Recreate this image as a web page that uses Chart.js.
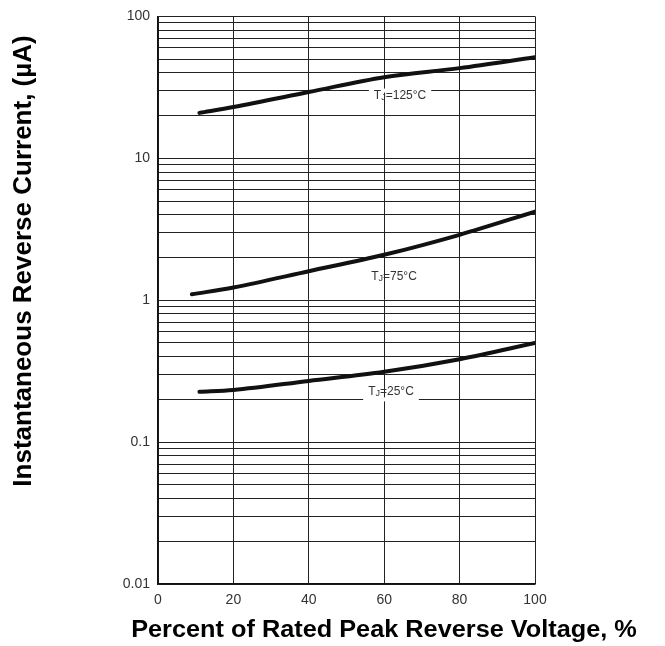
<!DOCTYPE html>
<html>
<head>
<meta charset="utf-8">
<script src="https://cdn.jsdelivr.net/npm/chart.js@4.4.1/dist/chart.umd.min.js"></script>
<style>
  html, body { margin: 0; padding: 0; background: #fff; }
  canvas { display: block; }
</style>
</head>
<body>
<canvas id="chart" width="665" height="646"></canvas>
<script>
// values
const xTickLabels = [0, 20, 40, 60, 80, 100];
const yTickLabels = [0.01, 0.1, 1, 10, 100];

const x125 = [11, 20, 40, 60, 80, 100];
const y125 = [20.9, 23.0, 29.3, 37.3, 43.2, 51.5];

const x75 = [9, 20, 40, 60, 80, 100];
const y75 = [1.1, 1.23, 1.6, 2.09, 2.89, 4.21];

const x25 = [11, 20, 40, 60, 80, 100];
const y25 = [0.226, 0.233, 0.27, 0.313, 0.384, 0.5];

// log grid lines: 1..9 in every decade
const yGrid = [];
for (let i = 0; i < yTickLabels.length - 1; i++) {
  for (let m = 1; m <= 9; m++) yGrid.push(Number((m * yTickLabels[i]).toPrecision(3)));
}
yGrid.push(yTickLabels[yTickLabels.length - 1]);

const toPoints = (xs, ys) => xs.map((x, i) => ({ x: x, y: ys[i] }));

const lineStyle = {
  borderColor: '#111',
  borderWidth: 4,
  pointRadius: 0,
  fill: false,
  cubicInterpolationMode: 'monotone',
  borderCapStyle: 'round'
};

// curve labels + the little white gap they cut into a grid line
const curveLabels = [
  { x: 64.2, y: 27.5, sub: 'J', rest: '=125°C', gap: 30 },
  { x: 62.6, y: 1.47, sub: 'J', rest: '=75°C', gap: null },
  { x: 61.8, y: 0.226, sub: 'J', rest: '=25°C', gap: 0.2 }
];

const decor = {
  id: 'decor',
  afterDatasetsDraw(chart) {
    const ctx = chart.ctx;
    const xs = chart.scales.x, ys = chart.scales.y;
    ctx.save();
    curveLabels.forEach(l => {
      const big = '12px "Liberation Sans", Arial, sans-serif';
      const small = '9px "Liberation Sans", Arial, sans-serif';
      ctx.font = big;
      const wT = ctx.measureText('T').width;
      const wR = ctx.measureText(l.rest).width;
      ctx.font = small;
      const wS = ctx.measureText(l.sub).width;
      const total = wT + wS + wR;
      const cx = xs.getPixelForValue(l.x);
      const cy = ys.getPixelForValue(l.y);
      let x0 = cx - total / 2;
      if (l.gap !== null) {
        const gy = ys.getPixelForValue(l.gap);
        ctx.fillStyle = '#fff';
        ctx.fillRect(x0 - 5, gy - 2, total + 10, 4);
      }
      ctx.fillStyle = '#333';
      ctx.textBaseline = 'middle';
      ctx.textAlign = 'left';
      ctx.font = big;
      ctx.fillText('T', x0, cy);
      ctx.font = small;
      ctx.fillText(l.sub, x0 + wT, cy + 2);
      ctx.font = big;
      ctx.fillText(l.rest, x0 + wT + wS, cy);
    });

    // axis titles (the original lettering is a little wide, hence the x stretch)
    ctx.fillStyle = '#000';
    ctx.textAlign = 'center';
    ctx.textBaseline = 'middle';
    ctx.save();
    ctx.translate(384, 631);
    ctx.scale(1.1, 1);
    ctx.font = 'bold 23px "Liberation Sans", Arial, sans-serif';
    ctx.fillText('Percent of Rated Peak Reverse Voltage, %', 0, 0);
    ctx.restore();
    ctx.translate(24, 261);
    ctx.rotate(-Math.PI / 2);
    ctx.font = 'bold 26px "Liberation Sans", Arial, sans-serif';
    ctx.fillText('Instantaneous Reverse Current, (µA)', 0, 0);
    ctx.restore();
  }
};

new Chart(document.getElementById('chart'), {
  type: 'line',
  data: {
    datasets: [
      Object.assign({ label: 'TJ=125°C', data: toPoints(x125, y125) }, lineStyle),
      Object.assign({ label: 'TJ=75°C', data: toPoints(x75, y75) }, lineStyle),
      Object.assign({ label: 'TJ=25°C', data: toPoints(x25, y25) }, lineStyle)
    ]
  },
  options: {
    responsive: false,
    animation: false,
    devicePixelRatio: 1,
    layout: { padding: { top: 14, right: 130, left: 0, bottom: 0 } },
    plugins: {
      legend: { display: false },
      title: { display: false },
      tooltip: { enabled: false }
    },
    scales: {
      x: {
        type: 'linear',
        min: 0,
        max: 100,
        afterFit(scale) { scale.height = 62; },
        afterBuildTicks(scale) { scale.ticks = xTickLabels.map(v => ({ value: v })); },
        ticks: {
          autoSkip: false,
          maxRotation: 0,
          padding: 8,
          color: '#333',
          font: { family: '"Liberation Sans", Arial, sans-serif', size: 14 }
        },
        grid: { color: '#222', lineWidth: 1, drawTicks: false },
        border: { color: '#111', width: 1.5 }
      },
      y: {
        type: 'logarithmic',
        min: 0.01,
        max: 100,
        afterFit(scale) { scale.width = 158; },
        afterBuildTicks(scale) { scale.ticks = yGrid.map(v => ({ value: v, major: yTickLabels.includes(v) })); },
        ticks: {
          autoSkip: false,
          padding: 8,
          color: '#333',
          font: { family: '"Liberation Sans", Arial, sans-serif', size: 14 },
          callback: (v) => yTickLabels.includes(v) ? String(v) : ''
        },
        grid: { color: '#222', lineWidth: 1, drawTicks: false },
        border: { color: '#111', width: 1.5 }
      }
    }
  },
  plugins: [decor]
});
</script>
</body>
</html>
